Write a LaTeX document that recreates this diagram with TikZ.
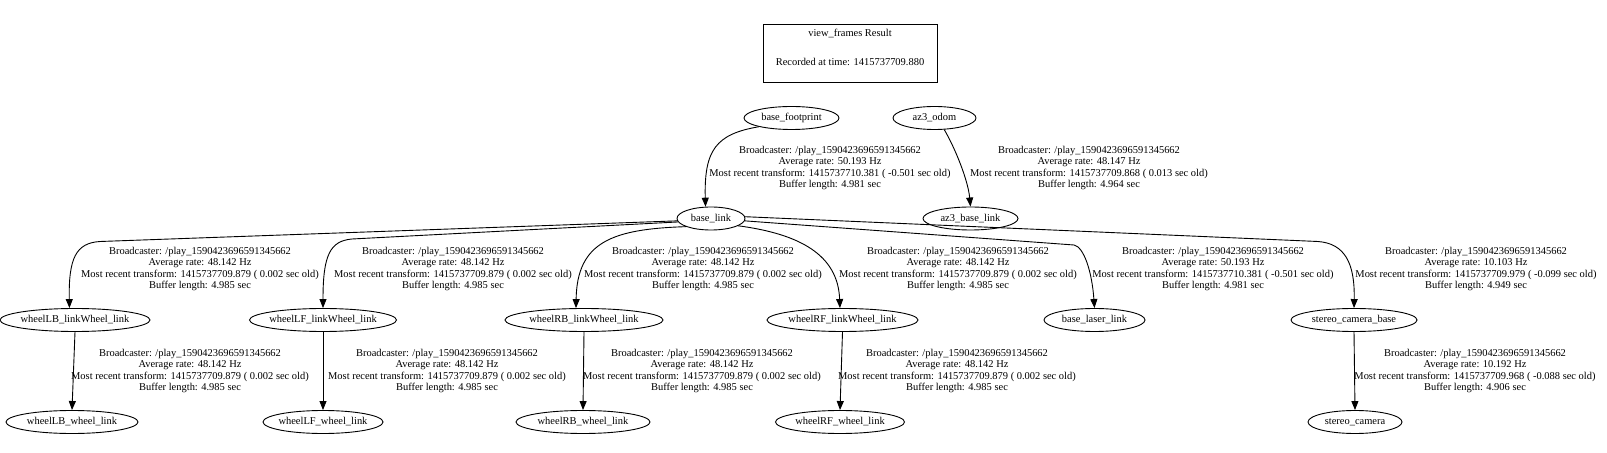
\documentclass[tikz,border=0pt]{standalone}
\usepackage{fontspec}
\setmainfont{Liberation Serif}
\usetikzlibrary{shapes.geometric,arrows.meta}
\tikzset{
  nd/.style={draw, ellipse, line width=0.9bp, inner sep=0pt, minimum height=23bp, font=\fontsize{10.5}{11.5}\selectfont},
  lbl/.style={align=center, inner sep=0pt, font=\fontsize{10.5}{11.5}\selectfont},
  edge/.style={line width=0.9bp, -{Triangle[length=9bp,width=7bp]}},
}
\newcommand{\tl}[4]{Broadcaster: /play\_1590423696591345662\\Average rate: #1 Hz\\Most recent transform: #2 ( #3 sec old)\\Buffer length: #4 sec}
\begin{document}
\begin{tikzpicture}[x=1bp,y=-1bp]
\useasboundingbox[fill=white] (0,0) rectangle (1607,453);
% title
\node[draw, line width=0.9bp, minimum width=174bp, minimum height=58bp, inner sep=0pt, lbl] (title) at (850,53)
  {view\_frames Result\\[17.5bp]Recorded at time: 1415737709.880\\[0bp]\mbox{}};
% nodes
\node[nd, minimum width=95bp] (bf) at (791.5,118) {\makebox[0pt]{base\_footprint}};
\node[nd, minimum width=83bp] (odom) at (934.5,118) {\makebox[0pt]{az3\_odom}};
\node[nd, minimum width=68bp] (bl) at (711,218.5) {\makebox[0pt]{base\_link}};
\node[nd, minimum width=95bp] (az3) at (970.5,218.5) {\makebox[0pt]{az3\_base\_link}};
\node[nd, minimum width=150bp] (wLB) at (75,320) {\makebox[0pt]{wheelLB\_linkWheel\_link}};
\node[nd, minimum width=147bp] (wLF) at (323,320) {\makebox[0pt]{wheelLF\_linkWheel\_link}};
\node[nd, minimum width=158bp] (wRB) at (584,320) {\makebox[0pt]{wheelRB\_linkWheel\_link}};
\node[nd, minimum width=151bp] (wRF) at (842.5,320) {\makebox[0pt]{wheelRF\_linkWheel\_link}};
\node[nd, minimum width=101bp] (laser) at (1094.5,320) {\makebox[0pt]{base\_laser\_link}};
\node[nd, minimum width=126bp] (scb) at (1354,320) {\makebox[0pt]{stereo\_camera\_base}};
\node[nd, minimum width=132bp] (wLBw) at (72,422) {\makebox[0pt]{wheelLB\_wheel\_link}};
\node[nd, minimum width=120bp] (wLFw) at (323,422) {\makebox[0pt]{wheelLF\_wheel\_link}};
\node[nd, minimum width=134bp] (wRBw) at (583,422) {\makebox[0pt]{wheelRB\_wheel\_link}};
\node[nd, minimum width=129bp] (wRFw) at (840,422) {\makebox[0pt]{wheelRF\_wheel\_link}};
\node[nd, minimum width=94bp] (sc) at (1355,422) {\makebox[0pt]{stereo\_camera}};
% labels
\node[lbl] (l1) at (830,168) {\tl{50.193}{1415737710.381}{-0.501}{4.981}};
\node[lbl] (l2) at (1089,168) {\tl{48.147}{1415737709.868}{0.013}{4.964}};
\node[lbl] (l3) at (200,269) {\tl{48.142}{1415737709.879}{0.002}{4.985}};
\node[lbl] (l4) at (453,269) {\tl{48.142}{1415737709.879}{0.002}{4.985}};
\node[lbl] (l5) at (703,269) {\tl{48.142}{1415737709.879}{0.002}{4.985}};
\node[lbl] (l6) at (958,269) {\tl{48.142}{1415737709.879}{0.002}{4.985}};
\node[lbl] (l7) at (1213,269) {\tl{50.193}{1415737710.381}{-0.501}{4.981}};
\node[lbl] (l8) at (1476,269) {\tl{10.103}{1415737709.979}{-0.099}{4.949}};
\node[lbl] (l9) at (190,371) {\tl{48.142}{1415737709.879}{0.002}{4.985}};
\node[lbl] (l10) at (447,371) {\tl{48.142}{1415737709.879}{0.002}{4.985}};
\node[lbl] (l11) at (702,371) {\tl{48.142}{1415737709.879}{0.002}{4.985}};
\node[lbl] (l12) at (957,371) {\tl{48.142}{1415737709.879}{0.002}{4.985}};
\node[lbl] (l13) at (1475,371) {\tl{10.192}{1415737709.968}{-0.088}{4.906}};
% edges
\draw[edge] (bf.195) .. controls (716,134) and (704,150) .. (bl.115);
\draw[edge] (odom.-50) .. controls (955,148) and (968,180) .. (az3.north);
\draw[edge] (bl.184) -- (100,241.5) .. controls (76,243) and (68.5,258) .. (wLB.115);
\draw[edge] (bl.186) -- (352,239) .. controls (330,241) and (323,255) .. (wLF.north);
\draw[edge] (bl.198) .. controls (612,229) and (577,242) .. (wRB.124);
\draw[edge] (bl.-15) .. controls (800,234) and (838,255) .. (wRF.102);
\draw[edge] (bl.-4) -- (1074,245) .. controls (1084,247) and (1092,272) .. (laser.north);
\draw[edge] (bl.3) -- (1318,241.5) .. controls (1344,243.5) and (1355,262) .. (scb.north);
\draw[edge] (wLB.south) -- (wLBw.north);
\draw[edge] (wLF.south) -- (wLFw.north);
\draw[edge] (wRB.south) -- (wRBw.north);
\draw[edge] (wRF.south) -- (wRFw.north);
\draw[edge] (scb.south) -- (sc.north);
\end{tikzpicture}
\end{document}
